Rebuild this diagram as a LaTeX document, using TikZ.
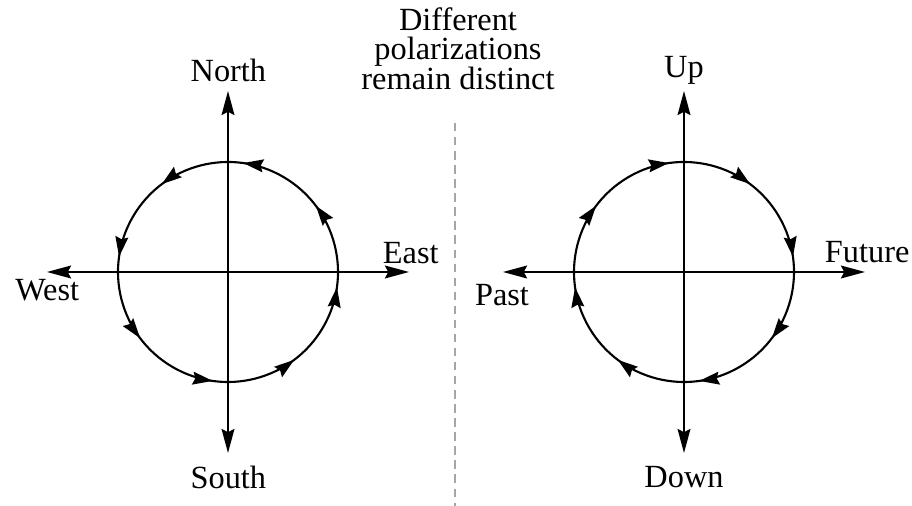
\documentclass[tikz,border=0pt]{standalone}
\usepackage{fontspec}
\setmainfont{Liberation Serif}
\usetikzlibrary{arrows.meta,decorations.markings}

\tikzset{
  axis/.style={line width=1.5pt, {Stealth[length=0.6cm,width=0.32cm,inset=0.08cm]}-{Stealth[length=0.6cm,width=0.32cm,inset=0.08cm]}},
  loop/.style={line width=1.5pt, postaction={decorate},
    decoration={markings, mark=between positions 0.0625 and 1 step 0.125 with {\arrow{Stealth[length=0.5cm,width=0.32cm,inset=0.06cm]}}}},
  divider/.style={gray!70, line width=1pt, dash pattern=on 6pt off 4pt},
}

\begin{document}
\begin{tikzpicture}[font=\fontsize{23}{21.5}\selectfont]
            \useasboundingbox (0,0) rectangle (22.8,12.65);

            % left: north / south / east / west
            \coordinate (L) at (5.7,5.85);
            \coordinate (Ln) at (5.7,10.375);
            \coordinate (Ls) at (5.7,1.325);
            \coordinate (Lw) at (1.175,5.85);
            \coordinate (Le) at (10.225,5.85);
            \draw[axis] (Lw) -- (Le);
            \draw[axis] (Ls) -- (Ln);
            \draw[loop] (L) ++(-30.5:2.75) arc[start angle=-30.5, end angle=329.5, radius=2.75];

            \node (north) at (5.71,10.9) {North};
            \node (south) at (5.71,0.72) {South};
            \node (west) at (1.18,5.4) {West};
            \node (east) at (10.27,6.33) {East};

            % right: up / down / future / past
            \coordinate (R) at (17.1,5.85);
            \coordinate (Rn) at (17.1,10.375);
            \coordinate (Rs) at (17.1,1.325);
            \coordinate (Rw) at (12.575,5.85);
            \coordinate (Re) at (21.625,5.85);
            \draw[axis] (Rw) -- (Re);
            \draw[axis] (Rs) -- (Rn);
            \draw[loop] (R) ++(30.5:2.75) arc[start angle=30.5, end angle=-329.5, radius=2.75];

            \node (up) at (17.1,10.9) {Up};
            \node (down) at (17.1,0.72) {Down};
            \node (past) at (12.55,5.28) {Past};
            \node (future) at (21.68,6.35) {Future};

            % divider
            \coordinate (dtop) at (11.375,9.575);
            \coordinate (dbot) at (11.375,0);
            \draw[divider] (dtop) -- (dbot);
            \node (title) at (11.45,11.33) {\begin{tabular}{@{}c@{}}Different\\[-1.5pt] polarizations\\[-1.5pt] remain distinct\end{tabular}};
\end{tikzpicture}
\end{document}
